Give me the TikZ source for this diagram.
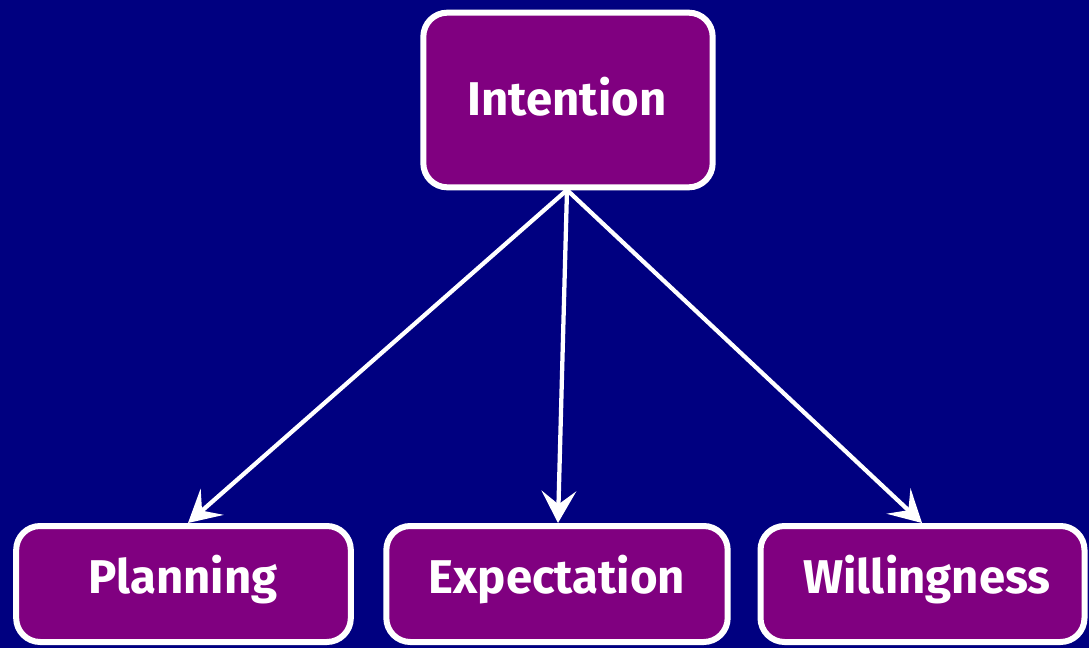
\documentclass[tikz,border=0pt]{standalone}
\usepackage{fontspec}
\setmainfont{Fira Sans}
\usetikzlibrary{arrows.meta}
\definecolor{navy}{HTML}{000080}
\definecolor{plum}{HTML}{800080}
\begin{document}
\begin{tikzpicture}[x=0.75pt,y=-0.75pt,
  box/.style={draw=white, fill=plum, line width=4.5pt, rounded corners=18pt},
  label/.style={text=white, font=\fontsize{35.5}{40}\selectfont\bfseries, inner sep=0pt},
  link/.style={draw=white, line width=3.2pt,
    -{Stealth[length=24pt,width=26pt,inset=10pt]}}]
  % page
  \fill[navy] (0,0) rectangle (1089,648);
  \useasboundingbox (0,0) rectangle (1089,648);
  % boxes
  \node[box, minimum width=217pt, minimum height=131pt] (int) at (568,100) {};
  \node[box, minimum width=251pt, minimum height=87pt] (plan) at (183.5,584) {};
  \node[box, minimum width=256pt, minimum height=87pt] (exp) at (557,584) {};
  \node[box, minimum width=243pt, minimum height=87pt] (will) at (922.5,584) {};
  % captions
  \node[label] (tint) at (567,97) {Intention};
  \node[label] (tplan) at (183,580) {Planning};
  \node[label] (texp) at (557,580) {Expectation};
  \node[label] (twill) at (927,580) {Willingness};
  % links from the top box
  \coordinate (src) at (567,190);
  \draw[link] (src) -- (plan.north -| 188,0);
  \draw[link] (src) -- (exp.north -| 558,0);
  \draw[link] (src) -- (will.north -| 922,0);
\end{tikzpicture}
\end{document}
